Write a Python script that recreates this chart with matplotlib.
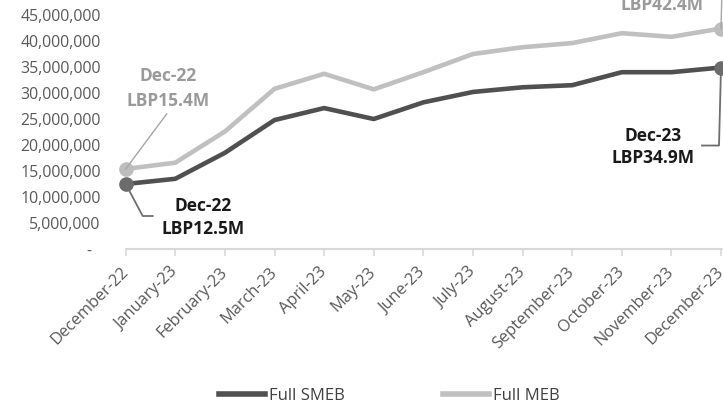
import matplotlib
matplotlib.use("Agg")
import matplotlib.pyplot as plt
from matplotlib.lines import Line2D
from matplotlib.ticker import FuncFormatter, MultipleLocator

plt.rcParams['font.family'] = ['Open Sans', 'DejaVu Sans']

months = ["December-22", "January-23", "February-23", "March-23", "April-23", "May-23",
          "June-23", "July-23", "August-23", "September-23", "October-23", "November-23",
          "December-23"]
smeb = [12.5, 13.5, 18.5, 24.8, 27.1, 25.0, 28.2, 30.2, 31.1, 31.5, 34.0, 34.0, 34.9]
meb = [15.4, 16.6, 22.6, 30.8, 33.7, 30.7, 34.0, 37.5, 38.8, 39.6, 41.5, 40.8, 42.4]
smeb = [v * 1e6 for v in smeb]
meb = [v * 1e6 for v in meb]

W, H = 723, 407
fig = plt.figure(figsize=(W / 100, H / 100), dpi=100)
ax = fig.add_axes([125.7 / W, (H - 249) / H, (W - 125.7) / W, 234 / H])

x = list(range(len(months)))
dark = "#505050"
light = "#c0c0c0"
ax.plot(x, meb, color=light, lw=3.3, solid_joinstyle='round', label="Full MEB", zorder=3)
ax.plot(x, smeb, color=dark, lw=3.3, solid_joinstyle='round', label="Full SMEB", zorder=4)

ax.set_xlim(0, 12 + 2 / 49.6)
ax.set_ylim(0, 45e6)
ax.yaxis.set_major_locator(MultipleLocator(5e6))
ax.yaxis.set_major_formatter(FuncFormatter(lambda v, p: "-  " if v == 0 else f"{int(v):,}"))
ax.set_xticks(x)
ax.set_xticklabels(months, rotation=45, ha='right', rotation_mode='anchor', va='center')

for s in ['top', 'right', 'left']:
    ax.spines[s].set_visible(False)
ax.spines['bottom'].set_color('#d9d9d9')
ax.spines['bottom'].set_linewidth(1.5)
ax.tick_params(axis='y', length=0, pad=18, labelsize=11.4, labelcolor='#595959')
ax.tick_params(axis='x', length=5, width=1.2, color='#d9d9d9', direction='out',
               pad=10, labelsize=11.8, labelcolor='#595959')

# end markers
ax.plot([x[0], x[-1]], [meb[0], meb[-1]], 'o', ms=9.5, color='#bdbdbd', zorder=6, clip_on=False)
ax.plot([x[0], x[-1]], [smeb[0], smeb[-1]], 'o', ms=9.5, color='#6b6b6b', zorder=6, clip_on=False)

fig.canvas.draw()


def leader(xi, yv, pts, color, lw):
    bx, by = ax.transData.transform((xi, yv))
    xs = [bx + p[0] for p in pts]
    ys = [by + p[1] for p in pts]
    fig.add_artist(Line2D(xs, ys, color=color, lw=lw, transform=None, zorder=5))


def label(xi, yv, text, off, color):
    ax.annotate(text, xy=(xi, yv), xytext=off, textcoords='offset pixels',
                ha='center', va='center', fontsize=12.5, fontweight='bold',
                color=color, annotation_clip=False, zorder=7)


grey_txt = "#9a9a9a"
# Dec-22 MEB
leader(x[0], meb[0], [(0, 0), (41, 55)], '#a6a6a6', 1.0)
label(x[0], meb[0], "Dec-22", (42, 93), grey_txt)
label(x[0], meb[0], f"LBP{meb[0] / 1e6:.1f}M", (42, 68), grey_txt)
# Dec-22 SMEB
leader(x[0], smeb[0], [(0, 0), (17, -32), (27, -32)], '#6e6e6e', 1.3)
label(x[0], smeb[0], "Dec-22", (77, -22), "#1a1a1a")
label(x[0], smeb[0], f"LBP{smeb[0] / 1e6:.1f}M", (77, -45), "#1a1a1a")
# Dec-23 SMEB
leader(x[-1], smeb[-1], [(0, 0), (-2, -78), (-19, -78)], '#6e6e6e', 1.3)
label(x[-1], smeb[-1], "Dec-23", (-68, -68), "#1a1a1a")
label(x[-1], smeb[-1], f"LBP{smeb[-1] / 1e6:.1f}M", (-68, -90), "#1a1a1a")
# Dec-23 MEB
leader(x[-1], meb[-1], [(0, 0), (1, 40)], '#a6a6a6', 1.0)
label(x[-1], meb[-1], "Dec-23", (-59, 47), grey_txt)
label(x[-1], meb[-1], f"LBP{meb[-1] / 1e6:.1f}M", (-59, 24), grey_txt)

handles = [Line2D([], [], color=dark, lw=4), Line2D([], [], color=light, lw=4)]
fig.legend(handles, ["Full SMEB", "Full MEB"], loc='center', bbox_to_anchor=(389 / W, 1 - 396 / H),
           ncol=2, frameon=False, fontsize=12, handlelength=2.8, handletextpad=0.2,
           columnspacing=5.9, labelcolor='#404040')

fig.savefig("out.png", dpi=100)
